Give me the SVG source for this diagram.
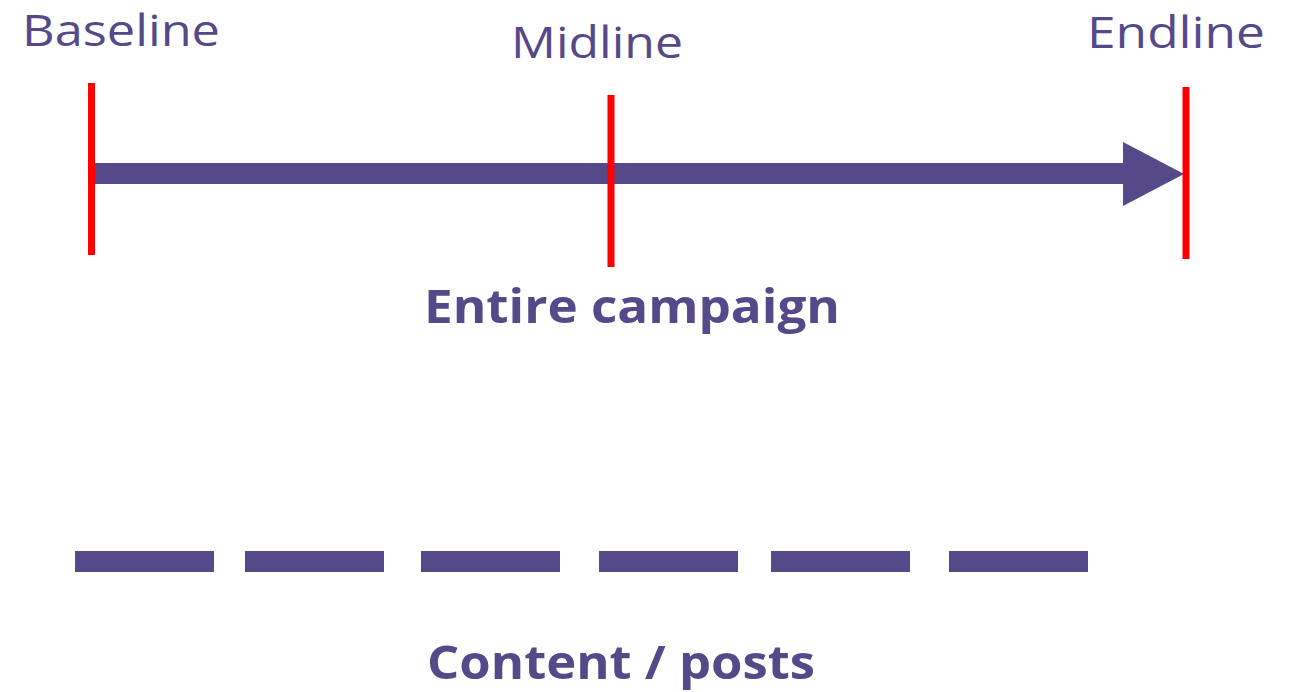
<svg xmlns="http://www.w3.org/2000/svg" width="1289" height="692" viewBox="0 0 1289 692">
<style>
.lbl{font-family:"Open Sans","Liberation Sans",sans-serif;fill:#56498A;font-size:44px}
.bold{font-family:"Open Sans","Liberation Sans",sans-serif;fill:#56498A;font-size:46px;font-weight:bold}
.tick{stroke:#FF0000;stroke-width:7}
.dash{fill:#56498A}
</style>
<rect width="1289" height="692" fill="#fff"/>
<g id="connectors">
<rect x="93" y="163" width="1032" height="21" fill="#56498A"/>
<polygon points="1123,142 1184,174 1123,206" fill="#56498A"/>
</g>
<g id="baseline"><line class="tick" x1="91.5" y1="83" x2="91.5" y2="255"/><text class="lbl" x="22" y="46" textLength="198" lengthAdjust="spacingAndGlyphs">Baseline</text></g>
<g id="midline"><line class="tick" x1="611" y1="95" x2="611" y2="267"/><text class="lbl" x="511" y="58" textLength="172" lengthAdjust="spacingAndGlyphs">Midline</text></g>
<g id="endline"><line class="tick" x1="1186" y1="87" x2="1186" y2="259"/><text class="lbl" x="1087" y="48" textLength="178" lengthAdjust="spacingAndGlyphs">Endline</text></g>
<g id="entire-campaign"><text class="bold" x="424" y="323" textLength="416" lengthAdjust="spacingAndGlyphs">Entire campaign</text></g>
<g id="content-posts">
<rect class="dash" x="75" y="551" width="139" height="21"/>
<rect class="dash" x="245" y="551" width="139" height="21"/>
<rect class="dash" x="421" y="551" width="139" height="21"/>
<rect class="dash" x="599" y="551" width="139" height="21"/>
<rect class="dash" x="771" y="551" width="139" height="21"/>
<rect class="dash" x="949" y="551" width="139" height="21"/>
<text class="bold" x="427" y="679" font-size="43" textLength="388" lengthAdjust="spacingAndGlyphs">Content / posts</text>
</g>
</svg>
